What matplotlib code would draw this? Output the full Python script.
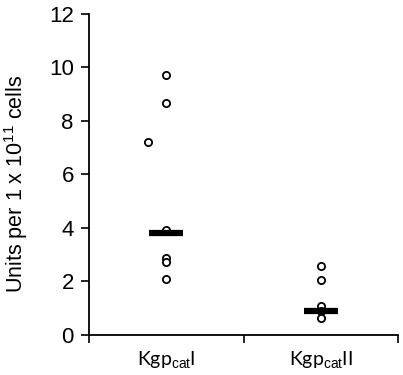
import matplotlib
matplotlib.use("Agg")
import matplotlib.pyplot as plt

plt.rcParams['font.family'] = ['Liberation Sans', 'DejaVu Sans']
plt.rcParams['mathtext.fontset'] = 'custom'
plt.rcParams['mathtext.rm'] = 'Liberation Sans'

groups = ['Kgp$_{\\mathrm{cat}}$I', 'Kgp$_{\\mathrm{cat}}$II']
kgp1 = [9.7, 8.65, 7.2, 3.9, 2.88, 2.71, 2.09]
kgp1_shift = [0, 0, -0.12, 0, 0, 0, 0]
kgp2 = [2.59, 2.05, 1.09, 0.9, 0.62]
kgp2_shift = [0, 0, 0, 0, 0]
medians = [3.8, 0.9]

fig = plt.figure(figsize=(4.03, 3.75), dpi=100)
ax = fig.add_axes([0.221, 0.107, 0.767, 0.857])

for i, (vals, sh) in enumerate([(kgp1, kgp1_shift), (kgp2, kgp2_shift)]):
    xs = [i + s for s in sh]
    ax.plot(xs, vals, 'o', mfc='white', mec='black', mew=1.3, ms=5.2, ls='none', zorder=2)
    ax.hlines(medians[i], i - 0.11, i + 0.11, colors='black', lw=4.5, zorder=3)

ax.set_xlim(-0.5, 1.5)
ax.set_ylim(0, 12)
ax.set_yticks(range(0, 13, 2))
ax.set_xticks([-0.5, 0.5, 1.5])
ax.set_xticklabels([])
ax.set_xticks([0, 1], minor=True)
ax.set_xticklabels(groups, minor=True, fontsize=14, family=['Lato', 'DejaVu Sans'])
ax.tick_params(axis='x', which='minor', length=0, pad=11)
ax.tick_params(axis='x', which='major', length=6, width=1.2, direction='out')
ax.tick_params(axis='y', length=6, width=1.2, direction='out', labelsize=16, pad=5)
for s in ['top', 'right']:
    ax.spines[s].set_visible(False)
for s in ['left', 'bottom']:
    ax.spines[s].set_linewidth(1.3)
ax.set_ylabel('Units per 1 x 10$^{11}$ cells', fontsize=15.5)
ax.yaxis.set_label_coords(-0.19, 0.471)

plt.savefig('out.png', dpi=100)
